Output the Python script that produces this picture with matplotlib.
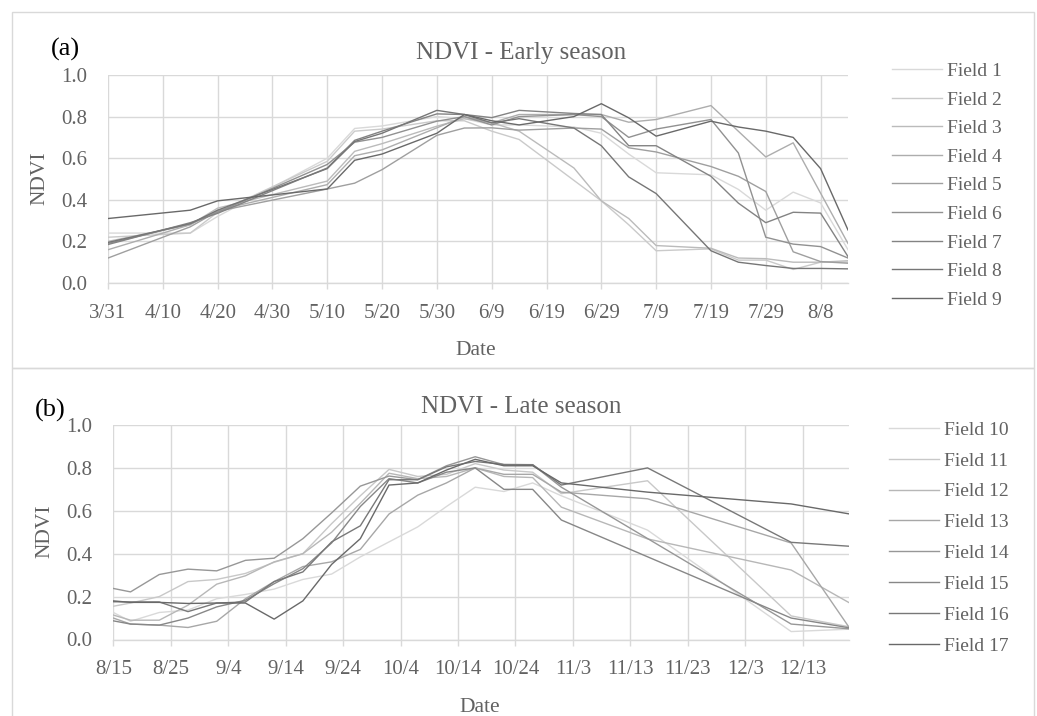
import pandas as pd
import matplotlib
matplotlib.use('Agg')
import matplotlib.pyplot as plt
from matplotlib.lines import Line2D
from matplotlib.patches import Rectangle

plt.rcParams['font.family'] = ['Liberation Serif', 'DejaVu Serif']

W, H = 1037, 716
YEAR = '2019/'
TEXT = '#626262'
GRID = '#d9d9d9'

# ---- early season ----
early_dates = ['3/31', '4/15', '4/20', '5/10', '5/15', '5/20', '5/30', '6/4', '6/9', '6/14',
               '6/24', '6/29', '7/4', '7/9', '7/19', '7/24', '7/29', '8/3', '8/8', '8/13']
early_names = ['Field %d' % i for i in range(1, 10)]
field_1 = [0.24, 0.24, 0.32, 0.60, 0.743, 0.755, 0.80, 0.79, 0.76, 0.76,
           0.75, 0.72, 0.62, 0.53, 0.52, 0.45, 0.35, 0.437, 0.385, 0.16]
field_2 = [0.22, 0.24, 0.34, 0.585, 0.73, 0.74, 0.78, 0.78, 0.73, 0.69,
           None, 0.395, 0.28, 0.155, 0.164, 0.11, 0.11, 0.065, 0.10, 0.10]
field_3 = [0.20, 0.28, 0.36, 0.49, 0.633, 0.67, 0.754, 0.79, 0.77, 0.73,
           0.553, 0.395, 0.31, 0.18, 0.167, 0.12, 0.117, 0.10, 0.10, 0.107]
field_4 = [0.16, 0.28, 0.35, 0.473, 0.612, 0.64, 0.746, 0.80, 0.77, 0.81,
           0.81, 0.81, 0.773, 0.786, 0.853, None, 0.606, 0.674, 0.432, 0.19]
field_5 = [0.12, 0.27, 0.345, 0.452, 0.48, 0.545, 0.71, 0.745, 0.746, 0.735,
           0.745, 0.74, 0.65, 0.63, 0.56, 0.513, 0.44, 0.15, 0.103, 0.095]
field_6 = [0.19, 0.285, 0.34, 0.57, 0.677, 0.70, 0.778, 0.80, 0.76, 0.80,
           0.81, 0.80, 0.70, 0.74, 0.786, 0.625, 0.22, 0.187, 0.175, 0.12]
field_7 = [0.185, 0.29, 0.335, 0.553, 0.686, 0.73, 0.813, 0.81, 0.795, 0.83,
           0.815, 0.81, 0.66, 0.66, 0.513, 0.384, 0.29, 0.34, 0.336, 0.127]
field_8 = [0.195, 0.285, 0.35, 0.55, 0.68, 0.72, 0.83, 0.81, 0.77, 0.79,
           0.745, 0.66, 0.51, 0.43, 0.155, 0.10, 0.084, 0.07, 0.07, 0.068]
field_9 = [0.31, 0.35, 0.395, 0.452, 0.59, 0.62, 0.72, 0.81, 0.78, 0.76,
           0.80, 0.862, 0.794, 0.706, 0.778, 0.75, 0.73, 0.70, 0.55, 0.255]
early_values = [field_1, field_2, field_3, field_4, field_5, field_6, field_7, field_8, field_9]
early_colors = ['#d9d9d9', '#cacaca', '#bbbbbb', '#adadad', '#9f9f9f',
                '#919191', '#838383', '#767676', '#696969']

# ---- late season ----
late_dates = ['8/15', '8/18', '8/23', '8/28', '9/2', '9/7', '9/12', '9/17', '9/22', '9/27',
              '10/2', '10/7', '10/12', '10/17', '10/22', '10/27', '11/1', '11/16', '12/11', '12/21']
late_names = ['Field %d' % i for i in range(10, 18)]
field_10 = [0.126, 0.085, 0.126, 0.137, 0.19, 0.21, 0.235, 0.28, 0.305, 0.385,
            0.455, 0.525, 0.62, 0.71, 0.69, 0.73, 0.67, 0.51, 0.037, 0.048]
field_11 = [0.155, 0.17, 0.20, 0.27, 0.28, 0.308, 0.36, 0.40, 0.54, 0.67,
            0.793, 0.76, 0.77, 0.82, 0.79, 0.78, 0.68, 0.74, 0.11, 0.06]
field_12 = [0.114, 0.09, 0.09, 0.16, 0.258, 0.297, 0.362, 0.40, 0.50, 0.635,
            0.775, 0.75, 0.76, 0.80, 0.76, 0.755, 0.617, 0.469, 0.324, 0.173]
field_13 = [0.10, 0.072, 0.067, 0.056, 0.085, 0.19, 0.27, 0.34, 0.362, 0.42,
            0.585, 0.673, 0.73, 0.80, 0.77, 0.77, 0.687, 0.656, 0.45, 0.06]
field_14 = [0.238, 0.222, 0.303, 0.328, 0.32, 0.369, 0.379, 0.47, 0.59, 0.715,
            0.762, 0.745, 0.81, 0.852, 0.815, 0.815, 0.71, None, 0.072, 0.05]
field_15 = [0.087, 0.072, 0.067, 0.10, 0.152, 0.183, 0.26, 0.33, 0.45, 0.62,
            0.75, 0.73, 0.78, 0.80, 0.70, 0.70, 0.557, None, 0.10, 0.055]
field_16 = [0.176, 0.175, 0.175, 0.13, 0.17, 0.175, 0.27, 0.315, 0.455, 0.53,
            0.745, 0.745, 0.805, 0.83, 0.816, 0.815, 0.72, 0.80, 0.453, 0.435]
field_17 = [0.18, 0.173, 0.173, 0.168, 0.17, 0.17, 0.095, 0.18, 0.35, 0.47,
            0.72, 0.73, 0.79, 0.84, 0.81, 0.81, 0.73, 0.687, 0.632, 0.586]
late_values = [field_10, field_11, field_12, field_13, field_14, field_15, field_16, field_17]
late_colors = ['#d9d9d9', '#c8c8c8', '#b7b7b7', '#a7a7a7', '#979797',
               '#878787', '#787878', '#696969']

y_ticks = [0.0, 0.2, 0.4, 0.6, 0.8, 1.0]


def fx(x):
    return x / W


def fy(y):
    return 1 - y / H


def to_dates(labels):
    return pd.to_datetime([YEAR + s for s in labels], format='%Y/%m/%d')


def draw_panel(fig, box, dates, values, names, colors, title, tag, layout):
    frame = Rectangle((fx(box[0]), fy(box[3])), fx(box[2] - box[0]), (box[3] - box[1]) / H,
                      transform=fig.transFigure, fill=False, edgecolor=GRID, lw=1.0)
    fig.add_artist(frame)

    left, top, right, bottom = layout['plot']
    ax = fig.add_axes([fx(left), fy(bottom), fx(right - left), (bottom - top) / H])
    x = to_dates(dates)
    for vals, col in zip(values, colors):
        s = pd.Series(vals, index=x, dtype=float).dropna()
        ax.plot(s.index, s.values, color=col, lw=1.0, zorder=3)

    ax.set_xlim(x[0], x[-1])
    ax.set_ylim(0, 1)
    ticks = pd.date_range(x[0], x[-1], freq='10D')
    ax.set_xticks(ticks)
    ax.set_xticklabels(['%d/%d' % (t.month, t.day) for t in ticks])
    ax.set_yticks(y_ticks)
    ax.set_yticklabels(['%.1f' % v for v in y_ticks])
    ax.grid(True, color=GRID, lw=1.0, zorder=0)
    for side in ['top', 'right', 'left']:
        ax.spines[side].set_visible(False)
    ax.spines['bottom'].set_color(GRID)
    ax.spines['bottom'].set_linewidth(1.0)
    ax.tick_params(axis='x', colors=GRID, length=4, width=1.0, pad=11, labelsize=15,
                   labelcolor=TEXT)
    ax.tick_params(axis='y', length=0, pad=15, labelsize=15, labelcolor=TEXT)
    ax.set_axisbelow(True)

    # small downward nudge so the glyphs, not the text box, sit on the target row
    nudge = 2.5
    fig.text(fx(layout['title'][0]), fy(layout['title'][1] + nudge), title, fontsize=18,
             color=TEXT, ha='center', va='center')
    fig.text(fx(layout['tag'][0]), fy(layout['tag'][1] + nudge), tag, fontsize=19,
             color='black', ha='center', va='center')
    fig.text(fx(layout['xlabel'][0]), fy(layout['xlabel'][1] + nudge), 'Date', fontsize=15.5,
             color=TEXT, ha='center', va='center')
    fig.text(fx(layout['ylabel'][0]), fy(layout['ylabel'][1]), 'NDVI', fontsize=15.5,
             color=TEXT, ha='center', va='center', rotation=90)

    lx0, lx1, tx, ly0, dy = layout['legend']
    for i, (name, col) in enumerate(zip(names, colors)):
        yy = ly0 + i * dy
        fig.add_artist(Line2D([fx(lx0), fx(lx1)], [fy(yy), fy(yy)], color=col, lw=1.0,
                              transform=fig.transFigure))
        fig.text(fx(tx), fy(yy + nudge), name, fontsize=14, color=TEXT, ha='left', va='center')
    return ax


fig = plt.figure(figsize=(W / 100, H / 100), dpi=100)

draw_panel(fig, (12, 12, 1034, 368), early_dates, early_values, early_names, early_colors,
           'NDVI - Early season', '(a)',
           {'plot': (108, 75, 848, 283), 'title': (521, 50), 'tag': (65, 47),
            'xlabel': (476, 348), 'ylabel': (40, 178),
            'legend': (892, 942, 947, 69, 28.6)})

draw_panel(fig, (12, 368, 1034, 730), late_dates, late_values, late_names, late_colors,
           'NDVI - Late season', '(b)',
           {'plot': (113.3, 425, 848.6, 639.5), 'title': (521, 404), 'tag': (50, 408),
            'xlabel': (480, 705), 'ylabel': (45, 531),
            'legend': (889, 939, 944, 427.7, 30.9)})

fig.savefig('out.png', dpi=100)
